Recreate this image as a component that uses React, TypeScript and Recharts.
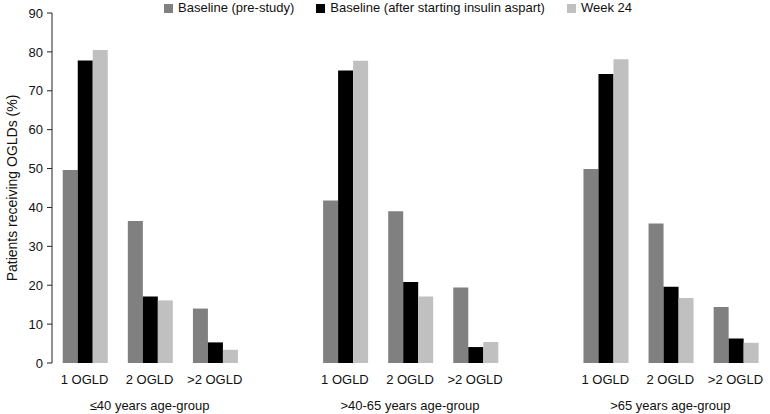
import { BarChart, Bar, XAxis, YAxis } from "recharts";

// OGLD use by age group, three time points
const categories = ["1 OGLD", "2 OGLD", ">2 OGLD", "", "1 OGLD", "2 OGLD", ">2 OGLD", "", "1 OGLD", "2 OGLD", ">2 OGLD"];
const groupLabels = ["", "≤40 years age-group", "", "", "", ">40-65 years age-group", "", "", "", ">65 years age-group", ""];

const preStudy = [49.6, 36.5, 14.0, null, 41.8, 39.0, 19.4, null, 49.9, 35.9, 14.4];
const afterInsulin = [77.8, 17.1, 5.3, null, 75.2, 20.8, 4.1, null, 74.3, 19.6, 6.3];
const week24 = [80.5, 16.1, 3.4, null, 77.7, 17.1, 5.4, null, 78.1, 16.7, 5.2];

const yTicks = [0, 10, 20, 30, 40, 50, 60, 70, 80, 90];
const boundaries = [...categories.map((_, i) => i), categories.length];

const series = [
  { key: "pre", name: "Baseline (pre-study)", color: "#808080" },
  { key: "after", name: "Baseline (after starting insulin aspart)", color: "#000000" },
  { key: "week24", name: "Week 24", color: "#c0c0c0" },
];

const FONT = "Arial, 'Liberation Sans', sans-serif";

function CategoryTick(props: any) {
  const { x, y, payload, index } = props;
  const group = groupLabels[index];
  return (
    <g>
      <text x={x} y={y + 21} textAnchor="middle" fontSize={13} fontFamily={FONT} fill="#111">
        {payload.value}
      </text>
      {group && (
        <text x={x} y={y + 47} textAnchor="middle" fontSize={13} fontFamily={FONT} fill="#111">
          {group}
        </text>
      )}
    </g>
  );
}

function YTitle(props: any) {
  const { viewBox } = props;
  const cx = viewBox.x + 12;
  const cy = viewBox.y + viewBox.height / 2;
  return (
    <text
      x={cx}
      y={cy}
      transform={`rotate(-90, ${cx}, ${cy})`}
      textAnchor="middle"
      dominantBaseline="central"
      fontSize={14}
      fontFamily={FONT}
      fill="#111"
    >
      Patients receiving OGLDs (%)
    </text>
  );
}

export default function App() {
  const data = categories.map((c, i) => ({
    category: c,
    pre: preStudy[i],
    after: afterInsulin[i],
    week24: week24[i],
  }));

  return (
    <div style={{ position: "absolute", top: 0, left: 0, width: 770, height: 414, background: "#fff" }}>
      <div
        style={{
          position: "absolute",
          top: 0,
          left: 164,
          display: "flex",
          fontFamily: FONT,
          fontSize: 13,
          lineHeight: "16px",
          color: "#111",
          zIndex: 1,
        }}
      >
        {series.map((s) => (
          <div key={s.key} style={{ display: "flex", alignItems: "center", marginRight: 22 }}>
            <span style={{ width: 9, height: 9, background: s.color, marginRight: 5, display: "inline-block" }} />
            <span>{s.name}</span>
          </div>
        ))}
      </div>
      <BarChart
        width={770}
        height={414}
        data={data}
        margin={{ top: 13, right: 2, left: 0, bottom: 0 }}
        barCategoryGap="16.5%"
        barGap={0}
      >
        <XAxis
          xAxisId="bounds"
          type="number"
          domain={[0, categories.length]}
          ticks={boundaries}
          tick={false}
          tickSize={4}
          height={0}
          stroke="#222"
          allowDataOverflow
        />
        <XAxis
          dataKey="category"
          height={51}
          axisLine={false}
          tickLine={false}
          tickSize={0}
          tickMargin={0}
          interval={0}
          tick={<CategoryTick />}
        />
        <YAxis
          width={52}
          domain={[0, 90]}
          ticks={yTicks}
          interval={0}
          tickSize={5}
          tickMargin={4}
          stroke="#222"
          tick={{ fontSize: 13, fontFamily: FONT, fill: "#111" }}
          label={{ content: <YTitle /> }}
        />
        {series.map((s) => (
          <Bar key={s.key} dataKey={s.key} name={s.name} fill={s.color} isAnimationActive={false} />
        ))}
      </BarChart>
    </div>
  );
}
